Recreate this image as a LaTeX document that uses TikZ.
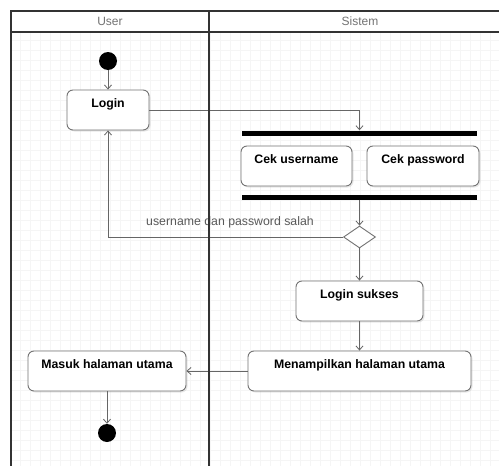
\documentclass[tikz,border=0pt]{standalone}
\usepackage{fontspec}
\setmainfont{Liberation Sans}
\usetikzlibrary{arrows.meta,shapes.geometric,shadows}
\begin{document}
\begin{tikzpicture}[x=1pt,y=-1pt,
  lane/.style={draw=black!80, line width=1.4pt},
  act/.style={draw=black!55, line width=0.9pt, rounded corners=6pt, fill=white,
     inner sep=0pt, text height=17pt, text depth=23pt,
     font=\fontsize{12.3}{14}\selectfont\bfseries,
     drop shadow={opacity=0.18, shadow xshift=1.5pt, shadow yshift=-1.5pt}},
  bar/.style={fill=black, inner sep=0pt, minimum height=5pt, minimum width=235pt},
  dot/.style={circle, fill=black, inner sep=0pt, minimum size=18pt},
  dec/.style={diamond, draw=black!55, line width=0.9pt, fill=white, inner sep=0pt,
     minimum width=32pt, minimum height=22pt},
  arr/.style={draw=black!60, line width=0.8pt, -{Straight Barb[length=4pt,width=7pt]}},
  hdr/.style={text=black!55, font=\fontsize{12}{14}\selectfont},
  lbl/.style={text=black!65, font=\fontsize{12.3}{14}\selectfont}
]
\useasboundingbox (0,0) rectangle (499,466);
\fill[white] (0,0) rectangle (499,466);
% faint grid
\draw[black!4, line width=0.3pt] (11,32) grid[step=10pt] (499,466);

% swimlanes
\draw[lane] (11,466) -- (11,11) -- (499,11);
\draw[lane] (11,32) -- (499,32);
\node[hdr] (huser) at (110,21.5) {User};
\node[hdr] (hsis) at (360,21.5) {Sistem};

% nodes
\node[dot] (start) at (108,61) {};
\node[act, minimum width=82pt] (login) at (108,110) {Login};
\node[bar] (fork) at (359.5,133) {};
\node[act, minimum width=111pt] (cekuser) at (296.5,166) {Cek username};
\node[act, minimum width=112pt] (cekpass) at (423,166) {Cek password};
\node[bar] (join) at (359.5,197) {};
\node[dec] (dec) at (359.5,237) {};
\node[act, minimum width=127pt] (sukses) at (359.5,301) {Login sukses};
\node[act, minimum width=223pt] (tampil) at (359.5,371) {Menampilkan halaman utama};
\node[act, minimum width=158pt] (masuk) at (107,371) {Masuk halaman utama};
\node[dot] (endc) at (107,433) {};

% connectors
\draw[arr] (start) -- (login);
\draw[arr] (login.east) -| (fork.north);
\draw[arr] (join.south) -- (dec.north);
\draw[arr] (dec.west) -| (login.south);
\node[lbl] (salah) at (230,222) {username dan password salah};
\draw[arr] (dec.south) -- (sukses.north);
\draw[arr] (sukses.south) -- (tampil.north);
\draw[arr] (tampil.west) -- (masuk.east);
\draw[arr] (masuk.south) -- (endc.north);

% divider drawn on top
\draw[lane] (209,11) -- (209,466);
\end{tikzpicture}
\end{document}
